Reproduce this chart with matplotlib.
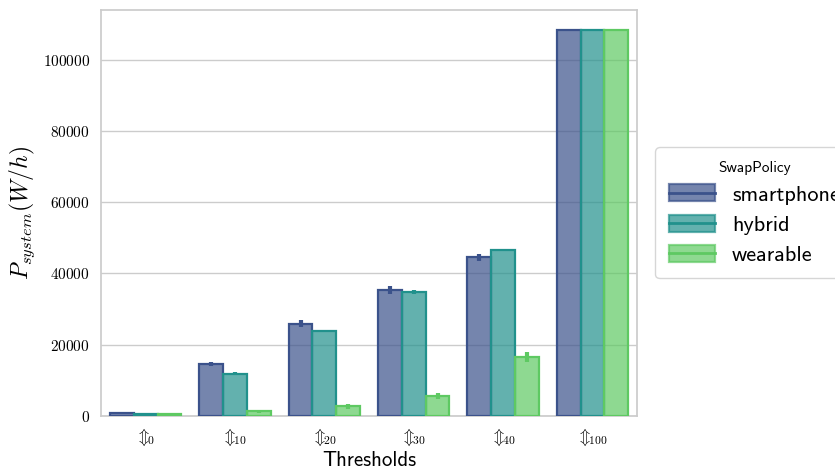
import numpy as np
import matplotlib
matplotlib.use("Agg")
import matplotlib.pyplot as plt
from matplotlib.patches import Patch
from matplotlib.lines import Line2D
from matplotlib.legend_handler import HandlerTuple
from matplotlib.ticker import FuncFormatter

plt.rcParams["mathtext.fontset"] = "cm"
plt.rcParams["font.family"] = ["cmss10", "DejaVu Sans"]

thresholds = ["0", "10", "20", "30", "40", "100"]
policies = ["smartphone", "hybrid", "wearable"]
colors = ["#3b528b", "#21918c", "#5ec962"]

smartphone = [700, 14600, 25900, 35400, 44500, 108400]
hybrid = [650, 11900, 23800, 34800, 46700, 108400]
wearable = [600, 1300, 2700, 5600, 16500, 108400]

smartphone_err = [150, 600, 900, 1100, 900, 150]
hybrid_err = [100, 300, 300, 500, 300, 150]
wearable_err = [100, 350, 700, 900, 1300, 150]

values = [smartphone, hybrid, wearable]
errors = [smartphone_err, hybrid_err, wearable_err]

fig, ax = plt.subplots(figsize=(8.35, 4.71), dpi=100)
fig.subplots_adjust(left=0.121, right=0.763, top=0.979, bottom=0.117)

x = np.arange(len(thresholds))
width = 0.8 / len(policies)
for i, (name, c) in enumerate(zip(policies, colors)):
    pos = x - 0.4 + width * (i + 0.5)
    ax.bar(pos, values[i], width, color=c, alpha=0.7, zorder=2)
    ax.bar(pos, values[i], width, facecolor="none", edgecolor=c, linewidth=1.6, zorder=3)
    ax.errorbar(pos, values[i], yerr=errors[i], fmt="none", ecolor=c,
                elinewidth=3, capsize=0, zorder=4)

ax.set_xlim(-0.5, len(thresholds) - 0.5)
ax.set_ylim(0, 114000)
ax.set_xticks(x)
ax.set_xticklabels([r"$\Updownarrow\!\!{}_{%s}$" % t for t in thresholds], fontsize=12)
ax.yaxis.set_major_formatter(FuncFormatter(lambda v, p: r"$%d$" % v))
ax.tick_params(axis="y", labelsize=11, length=0, pad=8)
ax.tick_params(axis="x", length=0, pad=8)

ax.grid(axis="y", color="#cccccc", linewidth=1.0, zorder=1)
ax.set_axisbelow(True)
for s in ax.spines.values():
    s.set_color("#cccccc")
    s.set_linewidth(1.25)

ax.set_xlabel("Thresholds", fontsize=15, labelpad=2)
ax.set_ylabel(r"$P_{system}(W/h)$", fontsize=17, labelpad=4)

handles = []
for c in colors:
    handles.append((Patch(facecolor=c, alpha=0.7, edgecolor=c, linewidth=1.6),
                    Line2D([], [], color=c, linewidth=2)))
leg = ax.legend(handles, policies, title="SwapPolicy", loc="center left",
                bbox_to_anchor=(1.034, 0.5), borderaxespad=0, fontsize=16,
                title_fontsize=11,
                handler_map={tuple: HandlerTuple(ndivide=1)},
                handlelength=2.1, handleheight=0.8, frameon=True, fancybox=True,
                borderpad=0.6, labelspacing=0.45, handletextpad=0.75)
leg.get_frame().set_edgecolor("#cccccc")
leg._legend_box.sep = 7

fig.savefig("out.png", dpi=100)
